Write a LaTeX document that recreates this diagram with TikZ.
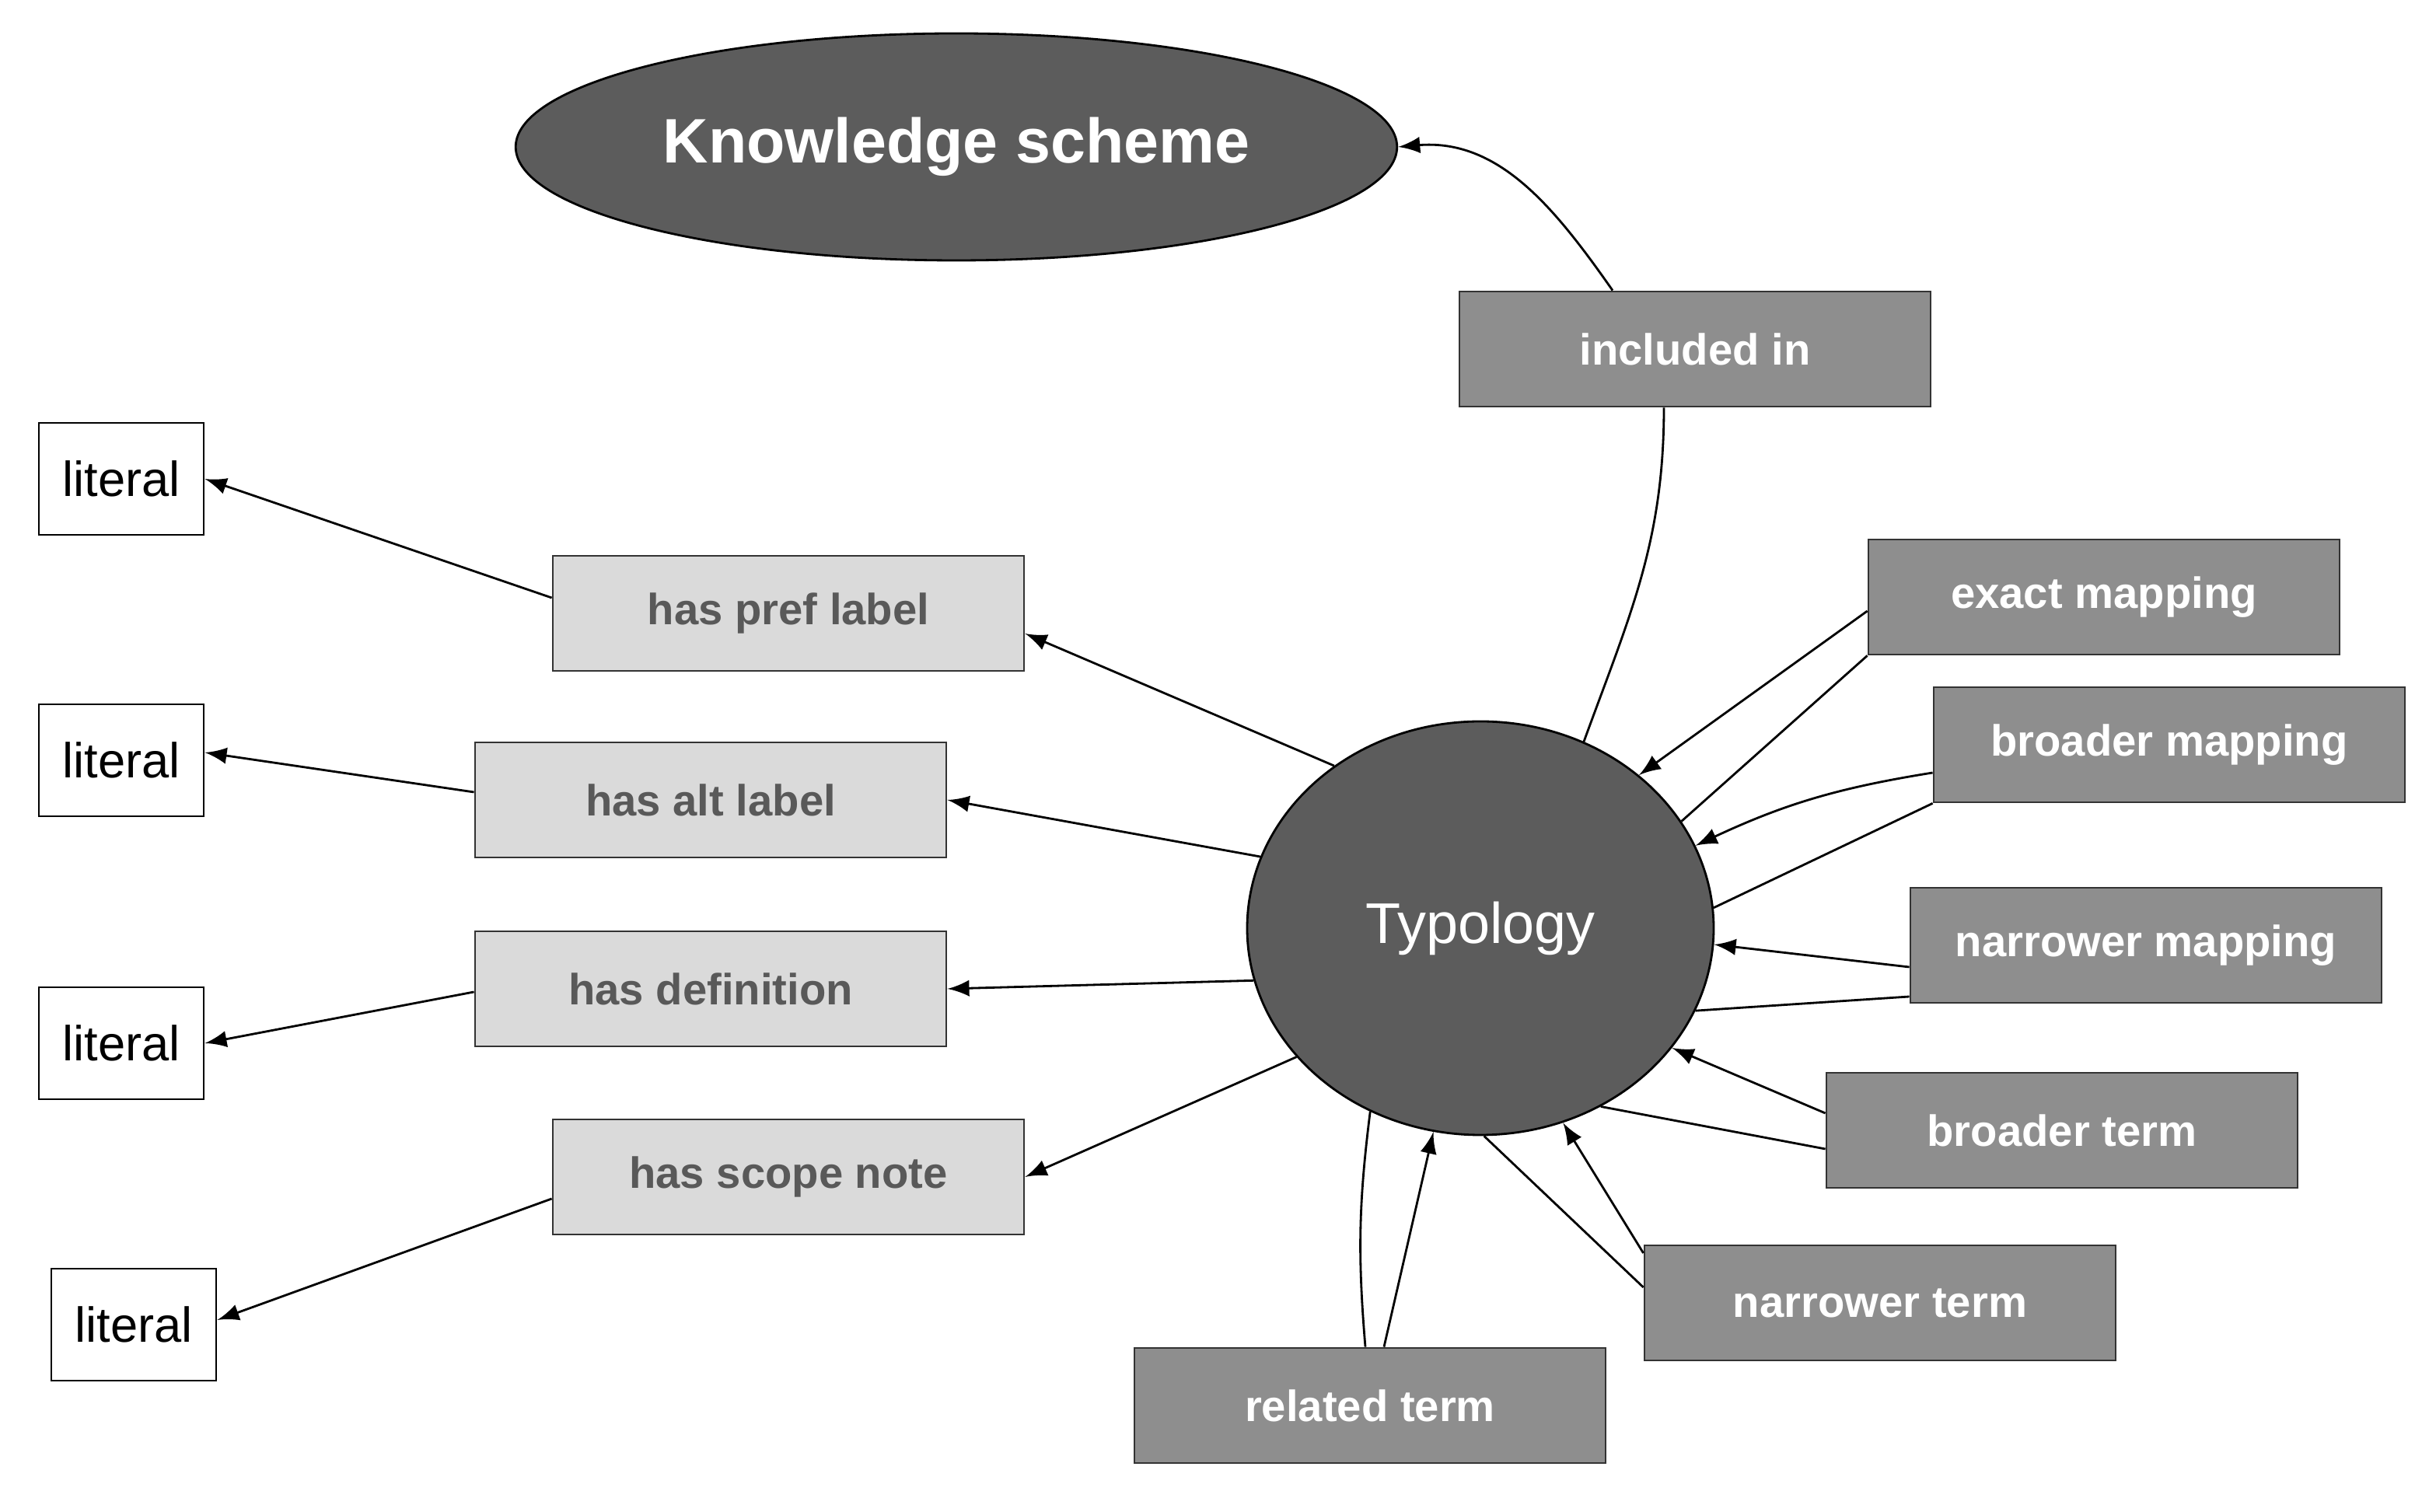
\documentclass[tikz,border=0pt]{standalone}
\usepackage{fontspec}
\setmainfont{Liberation Sans}
\usetikzlibrary{shapes.geometric}
\definecolor{darkfill}{HTML}{5C5C5C}
\definecolor{midfill}{HTML}{8E8E8E}
\definecolor{lightfill}{HTML}{DADADA}
\begin{document}
\begin{tikzpicture}
	\tikzstyle{box}=[rectangle, draw=black!80, minimum width=3.03cm, minimum height=0.74cm, font=\fontsize{8}{9}\selectfont\bfseries]
	\tikzstyle{prop}=[box, fill=lightfill, text=black!65]
	\tikzstyle{rel}=[box, fill=midfill, text=white]
	\tikzstyle{lit}=[rectangle, draw=black, fill=white, minimum width=1.06cm, minimum height=0.72cm, font=\fontsize{9}{10}\selectfont]
	\tikzstyle{connect}=[-latex, thin]
	\useasboundingbox (0,0) rectangle (15.665,9.725);
	% main concepts
	\node[ellipse, draw=black, fill=darkfill, text=white, minimum width=4.26cm, minimum height=1.46cm, font=\fontsize{11.5}{13}\selectfont\bfseries] (ks) at (6.15,8.78) {Knowledge scheme};
	\node[ellipse, draw=black, fill=darkfill, text=white, minimum width=3.0cm, minimum height=2.66cm, font=\fontsize{10.5}{12}\selectfont] (typ) at (9.52,3.755) {Typology};
	\node[rel] (incl) at (10.90,7.48) {included in};
	% left side
	\node[prop] (pref) at (5.07,5.78) {has pref label};
	\node[prop] (alt) at (4.57,4.58) {has alt label};
	\node[prop] (def) at (4.57,3.365) {has definition};
	\node[prop] (scope) at (5.07,2.155) {has scope note};
	\node[lit] (lit1) at (0.78,6.645) {literal};
	\node[lit] (lit2) at (0.78,4.835) {literal};
	\node[lit] (lit3) at (0.78,3.015) {literal};
	\node[lit] (lit4) at (0.86,1.205) {literal};
	% right side
	\node[rel] (exact) at (13.53,5.885) {exact mapping};
	\node[rel] (bmap) at (13.95,4.935) {broader mapping};
	\node[rel] (nmap) at (13.80,3.645) {narrower mapping};
	\node[rel] (bterm) at (13.26,2.455) {broader term};
	\node[rel] (nterm) at (12.09,1.345) {narrower term};
	\node[rel] (rterm) at (8.81,0.685) {related term};

	\draw (typ.61) to[out=70, in=-90] ([xshift=-0.2cm]incl.south);
	\draw[connect] ([xshift=-0.53cm]incl.north) to[out=125, in=5] (ks.east);
	\path (typ.132) edge [connect] ([yshift=-0.13cm]pref.east)
	(typ.162) edge [connect] (alt.east)
	(typ.193) edge [connect] (def.east)
	(typ.215) edge [connect] (scope.east)
	([yshift=0.1cm]pref.west) edge [connect] (lit1.east)
	([yshift=0.05cm]alt.west) edge [connect] ([yshift=0.05cm]lit2.east)
	([yshift=-0.02cm]def.west) edge [connect] (lit3.east)
	([yshift=-0.14cm]scope.west) edge [connect] ([yshift=0.03cm]lit4.east);
	\path ([yshift=-0.09cm]exact.west) edge [connect] (typ.44)
	([yshift=-0.18cm]bmap.west) edge [connect, bend right=8] (typ.21)
	([yshift=-0.14cm]nmap.west) edge [connect] (typ.-4)
	([yshift=0.11cm]bterm.west) edge [connect] (typ.-32)
	([yshift=0.32cm]nterm.west) edge [connect] (typ.-67)
	([xshift=0.09cm]rterm.north) edge [connect] (typ.-103);
	\draw (exact.south west) -- (typ.28);
	\draw (bmap.south west) -- (typ.5);
	\draw ([yshift=-0.33cm]nmap.west) -- (typ.-21);
	\draw ([yshift=-0.12cm]bterm.west) -- (typ.-56);
	\draw ([yshift=0.1cm]nterm.west) -- (typ.-89);
	\draw ([xshift=-0.03cm]rterm.north) to[bend left=6] (typ.-121);
\end{tikzpicture}
\end{document}
